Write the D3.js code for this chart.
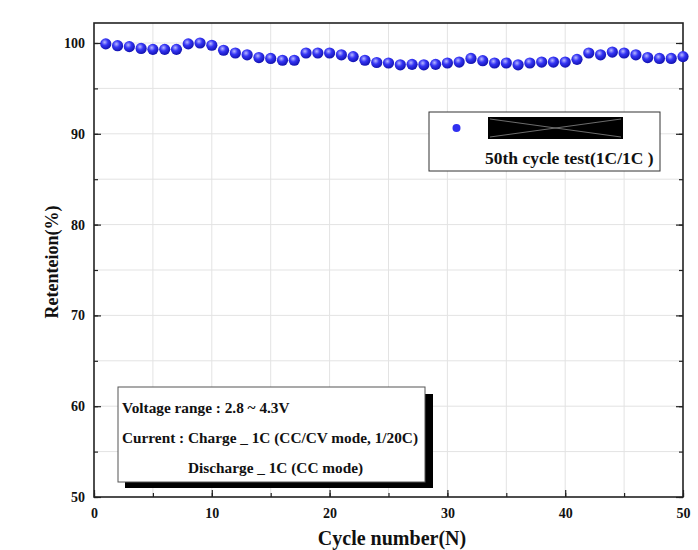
<!DOCTYPE html>
<html>
<head>
<meta charset="utf-8">
<script src="https://cdn.jsdelivr.net/npm/d3@7"></script>
<style>
  body { margin: 0; background: #fff; }
  svg text { font-family: "Liberation Serif", "Times New Roman", serif; font-weight: bold; fill: #111; }
</style>
</head>
<body>
<svg id="chart" width="698" height="550"></svg>
<script>
const cycles = d3.range(1, 51);
const retention = [
  99.9, 99.7, 99.6, 99.4, 99.3, 99.3, 99.3, 99.9, 100.0, 99.75,
  99.2, 98.9, 98.7, 98.4, 98.3, 98.1, 98.1, 98.9, 98.9, 98.9,
  98.7, 98.5, 98.1, 97.85, 97.8, 97.6, 97.65, 97.6, 97.65, 97.8,
  97.9, 98.3, 98.05, 97.8, 97.8, 97.6, 97.8, 97.9, 97.9, 97.9,
  98.2, 98.9, 98.7, 99.0, 98.9, 98.7, 98.4, 98.3, 98.3, 98.5
];
const xTicks = [0, 10, 20, 30, 40, 50];
const yTicks = [50, 60, 70, 80, 90, 100];
const legendLabel = '50th cycle test(1C/1C )';
const noteLines = [
  'Voltage range : 2.8 ~ 4.3V',
  'Current : Charge _ 1C (CC/CV mode, 1/20C)',
  'Discharge _ 1C (CC mode)'
];

const margin = { left: 94, right: 15, top: 23, bottom: 53 };
const W = 698, H = 550;
const svg = d3.select('#chart');

const x = d3.scaleLinear().domain([0, 50]).range([margin.left, W - margin.right]);
const y = d3.scaleLinear().domain([50, 100]).range([H - margin.bottom, 43]);

// sphere look for the markers
const defs = svg.append('defs');
const grad = defs.append('radialGradient').attr('id', 'ball')
  .attr('cx', '40%').attr('cy', '35%').attr('r', '65%');
grad.append('stop').attr('offset', '0%').attr('stop-color', '#b8b8ff');
grad.append('stop').attr('offset', '45%').attr('stop-color', '#3535f5');
grad.append('stop').attr('offset', '100%').attr('stop-color', '#1212b0');

// faint grid every 5 units
const grid = svg.append('g').attr('stroke', '#e3e3e3').attr('stroke-width', 1);
d3.range(5, 50, 5).forEach(v => {
  grid.append('line').attr('x1', x(v)).attr('x2', x(v))
    .attr('y1', y(50)).attr('y2', margin.top);
});
d3.range(55, 101, 5).forEach(v => {
  grid.append('line').attr('x1', x(0)).attr('x2', x(50))
    .attr('y1', y(v)).attr('y2', y(v));
});

// axes, ticks pointing inward
const minorX = d3.range(0, 51, 5);
const minorY = d3.range(50, 101, 5);
svg.append('g').attr('transform', `translate(0,${y(50)})`)
  .call(d3.axisBottom(x).tickValues(minorX).tickSize(-4).tickFormat(''));
svg.append('g').attr('transform', `translate(0,${y(50)})`)
  .call(d3.axisBottom(x).tickValues(xTicks).tickSize(-7).tickPadding(11).tickFormat(d3.format('d')));
svg.append('g').attr('transform', `translate(${x(0)},0)`)
  .call(d3.axisLeft(y).tickValues(minorY).tickSize(-4).tickFormat(''));
svg.append('g').attr('transform', `translate(${x(0)},0)`)
  .call(d3.axisLeft(y).tickValues(yTicks).tickSize(-7).tickPadding(9).tickFormat(d3.format('d')));
svg.append('g').attr('transform', `translate(${x(50)},0)`)
  .call(d3.axisRight(y).tickValues(yTicks).tickSize(-7).tickFormat(''));
svg.append('g').attr('transform', `translate(${x(50)},0)`)
  .call(d3.axisRight(y).tickValues(minorY).tickSize(-4).tickFormat(''));
svg.selectAll('.domain').remove();
svg.selectAll('.tick line').attr('stroke', '#222').attr('stroke-width', 1.2);
svg.selectAll('.tick text').attr('font-size', 14).attr('fill', '#222')
  .style('font-family', '"Liberation Serif", serif').style('font-weight', 'bold');

// frame
svg.append('rect')
  .attr('x', x(0)).attr('y', margin.top)
  .attr('width', x(50) - x(0)).attr('height', y(50) - margin.top)
  .attr('fill', 'none').attr('stroke', '#222').attr('stroke-width', 1.6);

// axis titles
svg.append('text').attr('x', 392).attr('y', 545)
  .attr('text-anchor', 'middle').attr('font-size', 20).text('Cycle number(N)');
svg.append('text').attr('transform', `translate(58,262) rotate(-90)`)
  .attr('text-anchor', 'middle').attr('font-size', 18).text('Retenteion(%)');

// data points
svg.append('g').selectAll('circle').data(cycles).join('circle')
  .attr('cx', d => x(d))
  .attr('cy', (d, i) => y(retention[i]))
  .attr('r', 5.6)
  .attr('fill', 'url(#ball)');

// legend
const lg = svg.append('g');
lg.append('rect').attr('x', 429).attr('y', 112).attr('width', 231).attr('height', 59)
  .attr('fill', '#fff').attr('stroke', '#333').attr('stroke-width', 1);
lg.append('circle').attr('cx', 456.5).attr('cy', 128).attr('r', 4).attr('fill', '#3030f0');
lg.append('rect').attr('x', 488).attr('y', 117).attr('width', 135).attr('height', 22).attr('fill', '#000');
lg.append('line').attr('x1', 490).attr('y1', 119).attr('x2', 621).attr('y2', 137)
  .attr('stroke', '#888').attr('stroke-width', 0.8);
lg.append('line').attr('x1', 490).attr('y1', 137).attr('x2', 621).attr('y2', 119)
  .attr('stroke', '#888').attr('stroke-width', 0.8);
lg.append('text').attr('x', 485).attr('y', 164).attr('font-size', 17.5).text(legendLabel);

// note box with drop shadow
const nb = svg.append('g');
nb.append('rect').attr('x', 125).attr('y', 394).attr('width', 308).attr('height', 94).attr('fill', '#000');
nb.append('rect').attr('x', 118).attr('y', 387).attr('width', 307).attr('height', 95)
  .attr('fill', '#fff').attr('stroke', '#555').attr('stroke-width', 1);
nb.append('text').attr('x', 122).attr('y', 413).attr('font-size', 15.3).text(noteLines[0]);
nb.append('text').attr('x', 122).attr('y', 443).attr('font-size', 15.3).text(noteLines[1]);
nb.append('text').attr('x', 188).attr('y', 473).attr('font-size', 15.3).text(noteLines[2]);
</script>
</body>
</html>
